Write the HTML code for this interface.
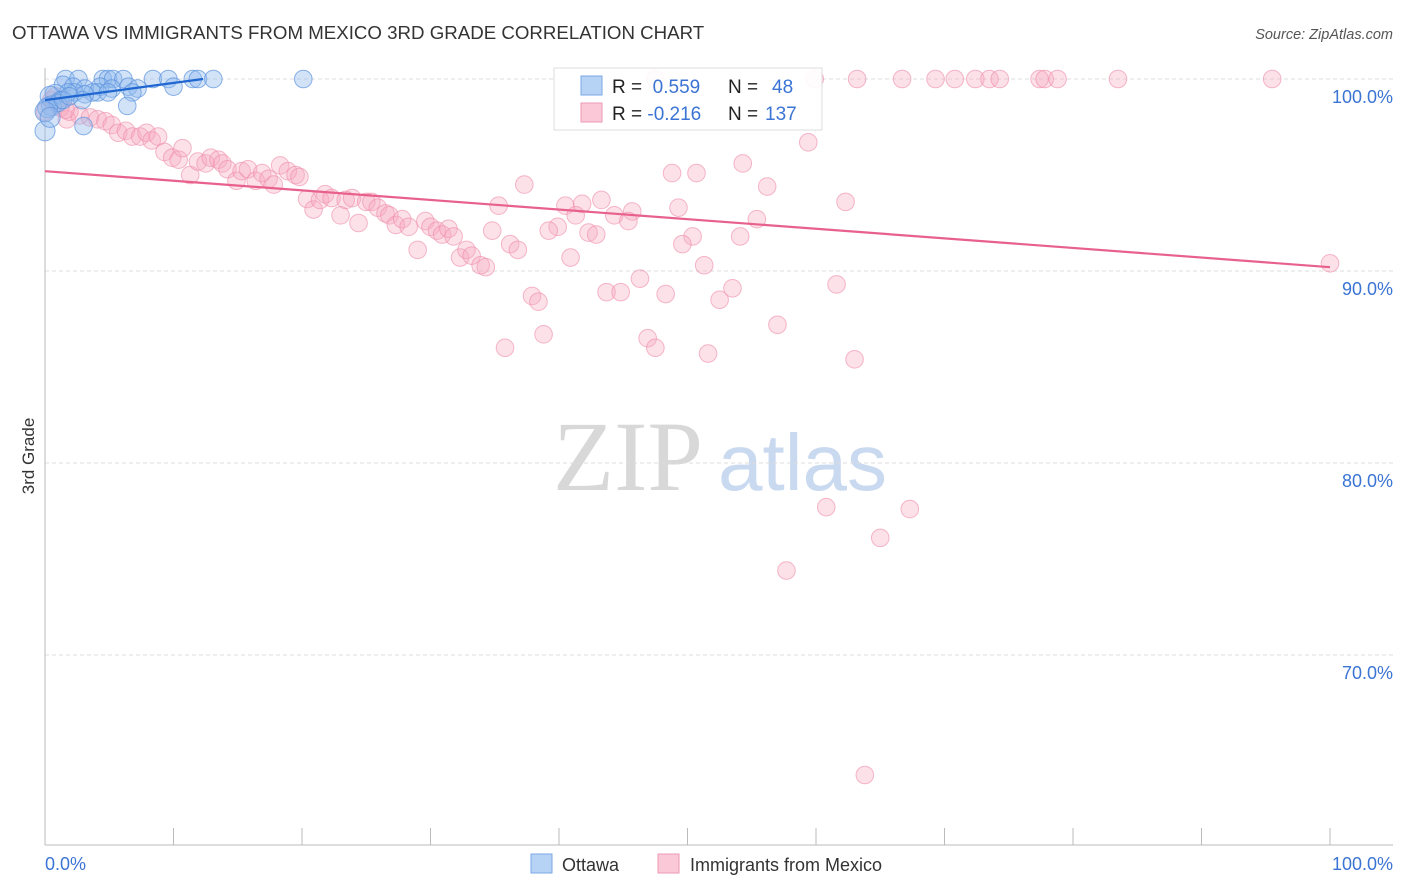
<!DOCTYPE html>
<html><head><meta charset="utf-8"><style>
body{margin:0;background:#fff;font-family:"Liberation Sans",sans-serif;}
svg{display:block}
</style></head><body>
<svg width="1406" height="892" xmlns="http://www.w3.org/2000/svg" id="chart">
<text x="12" y="39" font-size="18.7" fill="#333">OTTAWA VS IMMIGRANTS FROM MEXICO 3RD GRADE CORRELATION CHART</text>
<text x="1393" y="39" font-size="14.5" fill="#555" font-style="italic" text-anchor="end">Source: ZipAtlas.com</text>
<text x="553" y="490" font-size="100" fill="#d8d8d8" font-family="Liberation Serif,serif">ZIP</text>
<text x="718" y="490" font-size="80" fill="#c9d9f0">atlas</text>
<g id="grid"></g>
<g id="axes"></g>
<g id="pts"></g>
<g id="trend"></g>
<text transform="translate(34,456) rotate(-90)" font-size="17" fill="#333" text-anchor="middle">3rd Grade</text>
<g>
<rect x="554" y="68" width="268" height="62" fill="#fff" fill-opacity="0.9" stroke="#ddd"/>
<rect x="581" y="76" width="21" height="19" fill="#b6d2f5" stroke="#7aa8e6"/>
<rect x="581" y="103" width="21" height="19" fill="#fac8d6" stroke="#ef9ab5"/>
<text x="612" y="93" font-size="19" fill="#222">R = <tspan fill="#3b74d4">&#160;0.559</tspan><tspan x="728">N = </tspan><tspan x="772" fill="#3b74d4">48</tspan></text>
<text x="612" y="120" font-size="19" fill="#222">R = <tspan fill="#3b74d4">-0.216</tspan><tspan x="728">N = </tspan><tspan x="765" fill="#3b74d4">137</tspan></text>
</g>
<g>
<rect x="531" y="854" width="21" height="19" fill="#b6d2f5" stroke="#7aa8e6"/>
<text x="562" y="871" font-size="18" fill="#333">Ottawa</text>
<rect x="658" y="854" width="21" height="19" fill="#fac8d6" stroke="#ef9ab5"/>
<text x="690" y="871" font-size="18" fill="#333">Immigrants from Mexico</text>
</g>
</svg>
<script>
const yTicks=[100,90,80,70];
const yTickLabels=["100.0%","90.0%","80.0%","70.0%"];
const xTickLabels=["0.0%","100.0%"];
const blueX=[1.6,2.6,4.5,4.9,5.3,6.1,8.4,9.6,11.5,11.9,13.1,20.1,1.4,2.2,3.1,4.3,5.2,6.5,7.2,10.0,4.1,3.7,2.3,1.8,0.8,0.4,1.2,0.5,1.0,0.2,1.4,3.1,6.8,2.9,6.4,3.0,0,0,0.4,1.9,4.9];
const blueY=[100,100,100,100,100,100,100,100,100,100,100,100,99.7,99.6,99.5,99.6,99.5,99.6,99.5,99.6,99.3,99.3,99.3,99.3,99.2,99.1,98.9,98.6,98.75,98.5,98.9,99.2,99.3,98.9,98.6,97.55,97.3,98.3,98.0,99.1,99.3];
const pinkX=[47.5,59.9,63.2,66.7,69.3,70.8,72.4,73.5,74.3,77.4,77.8,78.8,83.5,95.5,100,59.4,54.3,48.8,50.7,56.2,37.3,62.3,35.3,43.3,40.5,41.8,45.7,49.3,55.4,41.3,44.3,45.4,39.9,39.2,42.3,42.9,34.8,50.4,49.6,54.1,36.2,36.8,40.9,51.3,46.3,37.9,38.4,43.7,44.8,48.3,53.5,52.5,61.6,57.0,46.9,47.5,38.8,35.8,51.6,63.0,60.8,67.3,65.0,57.7,63.8,
0.5,1.2,1.7,1.9,2.7,3.5,4.1,4.7,5.2,5.7,6.3,6.8,7.4,7.9,8.3,8.8,9.3,9.9,10.4,10.7,11.3,11.9,12.5,12.9,13.5,13.8,14.2,14.9,15.3,15.8,16.4,16.9,17.4,17.8,18.3,18.9,19.5,19.8,20.4,20.9,21.4,21.8,22.3,23.0,23.4,23.9,24.4,25.0,25.4,25.9,26.5,26.8,27.3,27.8,28.3,29.0,29.6,30.0,30.5,30.9,31.4,31.8,32.3,32.8,33.2,33.9,34.3,0,0.8,1.6];
const pinkY=[100,100,100,100,100,100,100,100,100,100,100,100,100,100,90.4,96.7,95.6,95.1,95.1,94.4,94.5,93.6,93.4,93.7,93.4,93.5,93.1,93.3,92.7,92.9,92.9,92.6,92.3,92.1,92.0,91.9,92.1,91.8,91.4,91.8,91.4,91.1,90.7,90.3,89.6,88.7,88.4,88.9,88.9,88.8,89.1,88.5,89.3,87.2,86.5,86.0,86.7,86.0,85.7,85.4,77.7,77.6,76.1,74.4,63.75,
98.9,98.5,97.9,98.3,98.1,98.0,97.9,97.8,97.6,97.2,97.3,97.0,97.0,97.2,96.8,97.0,96.2,95.9,95.8,96.4,95.0,95.7,95.6,95.9,95.8,95.6,95.3,94.7,95.2,95.3,94.7,95.1,94.8,94.5,95.5,95.2,95.0,94.9,93.75,93.2,93.7,94.0,93.8,92.9,93.7,93.8,92.5,93.6,93.6,93.3,93.0,92.9,92.4,92.7,92.3,91.1,92.6,92.3,92.1,91.9,92.2,91.8,90.7,91.1,90.8,90.3,90.2,98.3,99.1,98.4];
const blueTrendX=[0,12.3], blueTrendY=[98.9,100];
const pinkTrendX=[0,100], pinkTrendY=[95.2,90.2];
const NS="http://www.w3.org/2000/svg";
const xs=v=>45+12.85*v, ys=v=>79+19.2*(100-v);
function mk(tag,attrs,parent){const e=document.createElementNS(NS,tag);for(const k in attrs)e.setAttribute(k,attrs[k]);document.getElementById(parent).appendChild(e);return e;}
yTicks.forEach((t,i)=>{
 const l=mk('line',{x1:45,x2:1393,y1:ys(t),y2:ys(t),stroke:'#ddd','stroke-dasharray':'4,3'},'grid');
 
 
 const tx=mk('text',{x:1393,y:ys(t)+24,'font-size':18,fill:'#3b74d4','text-anchor':'end'},'grid');
 tx.textContent=yTickLabels[i];
 
 
});
let a=mk('line',{x1:45,x2:45,y1:68,y2:845,stroke:'#bbb'},'axes');


a=mk('line',{x1:45,x2:1393,y1:845,y2:845,stroke:'#bbb'},'axes');


for(let i=0;i<=10;i++){const t=mk('line',{x1:xs(i*10),x2:xs(i*10),y1:828,y2:845,stroke:'#bbb'},'axes');
 
 }
[[0,'start',45],[1,'end',1393]].forEach(([i,anc,x])=>{const t=mk('text',{x:x,y:870,'font-size':18,fill:'#3b74d4','text-anchor':anc},'axes');t.textContent=xTickLabels[i];
 
 });
pinkX.forEach((x,i)=>{const c=mk('circle',{cx:xs(x),cy:ys(pinkY[i]),r:8.8,fill:'#f7a8c0','fill-opacity':0.35,stroke:'#ee8aa9','stroke-opacity':0.6},'pts');
 
 });
blueX.forEach((x,i)=>{const c=mk('circle',{cx:xs(x),cy:ys(blueY[i]),r:x<1?10:8.8,fill:'#8fb9ee','fill-opacity':0.4,stroke:'#5b93dd','stroke-opacity':0.7},'pts');
 
 });
let tl=mk('line',{x1:xs(pinkTrendX[0]),y1:ys(pinkTrendY[0]),x2:xs(pinkTrendX[1]),y2:ys(pinkTrendY[1]),stroke:'#e8608d','stroke-width':2.2},'trend');


tl=mk('line',{x1:xs(blueTrendX[0]),y1:ys(blueTrendY[0]),x2:xs(blueTrendX[1]),y2:ys(blueTrendY[1]),stroke:'#1f66d1','stroke-width':2.2},'trend');


</script>
</body></html>
